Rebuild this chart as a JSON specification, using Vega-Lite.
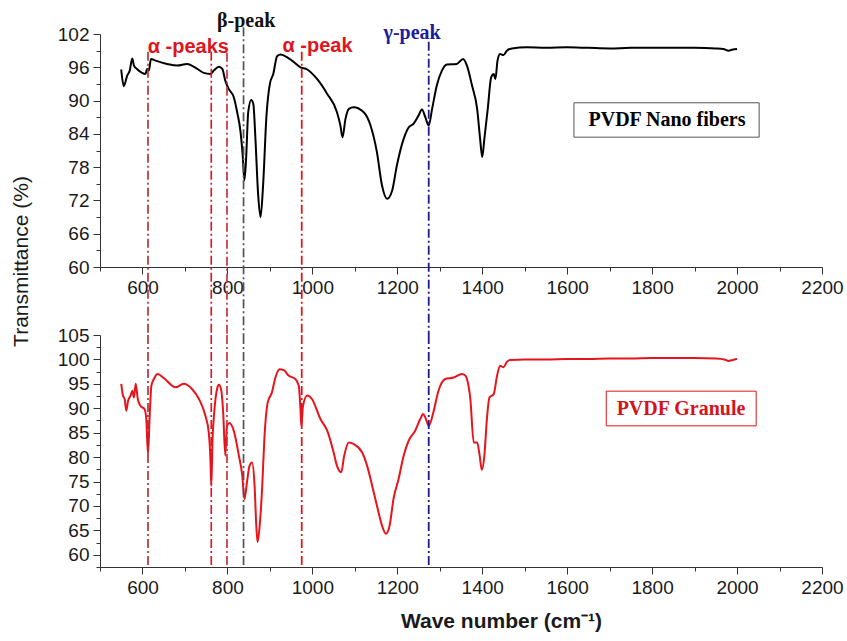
{
  "$schema": "https://vega.github.io/schema/vega-lite/v6.json",
  "padding": {"left": 10, "top": 10, "right": 2, "bottom": 5},
  "background": "white",
  "spacing": 68,
  "bounds": "flush",
  "config": {
    "view": {"stroke": null},
    "axis": {
      "grid": false,
      "labelFont": "Liberation Sans",
      "labelFontSize": 19,
      "labelColor": "#1a1a1a",
      "titleFont": "Liberation Sans",
      "titleFontSize": 21,
      "titleFontWeight": "normal",
      "titleColor": "#1a1a1a",
      "domainColor": "#333333",
      "tickColor": "#333333",
      "tickSize": 7,
      "tickCount": 100,
      "labelPadding": 4,
      "labelFlush": false,
      "labelOverlap": false,
      "labelBound": false
    }
  },
  "datasets": {
    "nano": [
      {"wn": 550, "t": 95.6}, {"wn": 556, "t": 92.6}, {"wn": 564, "t": 94.5}, {"wn": 570, "t": 95.4},
      {"wn": 576, "t": 97.6}, {"wn": 580, "t": 96.3}, {"wn": 587, "t": 95.7}, {"wn": 599, "t": 95.0},
      {"wn": 607, "t": 94.8}, {"wn": 611, "t": 95.7}, {"wn": 615, "t": 95.4}, {"wn": 620, "t": 97.5},
      {"wn": 631, "t": 97.2}, {"wn": 658, "t": 96.6}, {"wn": 682, "t": 96.3}, {"wn": 705, "t": 96.6},
      {"wn": 729, "t": 95.7}, {"wn": 744, "t": 95.0}, {"wn": 760, "t": 94.8}, {"wn": 768, "t": 95.4},
      {"wn": 780, "t": 96.1}, {"wn": 788, "t": 95.7}, {"wn": 795, "t": 93.6}, {"wn": 803, "t": 92.1},
      {"wn": 815, "t": 90.6}, {"wn": 823, "t": 87.9}, {"wn": 831, "t": 84.3}, {"wn": 836, "t": 80.1},
      {"wn": 840, "t": 75.6}, {"wn": 844, "t": 79.5}, {"wn": 849, "t": 87.9}, {"wn": 856, "t": 90.1},
      {"wn": 861, "t": 89.4}, {"wn": 866, "t": 83.1}, {"wn": 872, "t": 73.5}, {"wn": 878, "t": 69.0},
      {"wn": 884, "t": 74.7}, {"wn": 892, "t": 87.3}, {"wn": 900, "t": 93.0}, {"wn": 908, "t": 94.8},
      {"wn": 917, "t": 98.0}, {"wn": 925, "t": 98.3}, {"wn": 941, "t": 97.8}, {"wn": 952, "t": 97.2},
      {"wn": 972, "t": 96.0}, {"wn": 988, "t": 95.6}, {"wn": 1011, "t": 93.9}, {"wn": 1035, "t": 91.2},
      {"wn": 1058, "t": 87.9}, {"wn": 1066, "t": 85.5}, {"wn": 1071, "t": 83.4}, {"wn": 1078, "t": 86.7},
      {"wn": 1086, "t": 88.5}, {"wn": 1097, "t": 88.8}, {"wn": 1121, "t": 87.9}, {"wn": 1137, "t": 85.5},
      {"wn": 1152, "t": 80.7}, {"wn": 1164, "t": 74.7}, {"wn": 1176, "t": 72.3}, {"wn": 1188, "t": 73.8},
      {"wn": 1199, "t": 78.3}, {"wn": 1215, "t": 83.1}, {"wn": 1227, "t": 85.2}, {"wn": 1238, "t": 85.8},
      {"wn": 1250, "t": 87.3}, {"wn": 1258, "t": 88.4}, {"wn": 1266, "t": 87.0}, {"wn": 1274, "t": 85.5},
      {"wn": 1282, "t": 88.5}, {"wn": 1293, "t": 92.7}, {"wn": 1305, "t": 95.4}, {"wn": 1317, "t": 96.5},
      {"wn": 1340, "t": 96.6}, {"wn": 1355, "t": 97.5}, {"wn": 1364, "t": 96.3}, {"wn": 1376, "t": 92.7},
      {"wn": 1388, "t": 88.5}, {"wn": 1395, "t": 83.1}, {"wn": 1400, "t": 79.8}, {"wn": 1405, "t": 83.1},
      {"wn": 1413, "t": 88.5}, {"wn": 1421, "t": 94.2}, {"wn": 1427, "t": 94.8}, {"wn": 1431, "t": 93.9},
      {"wn": 1436, "t": 97.2}, {"wn": 1442, "t": 98.4}, {"wn": 1450, "t": 98.2}, {"wn": 1458, "t": 99.0},
      {"wn": 1470, "t": 99.4}, {"wn": 1505, "t": 99.6}, {"wn": 1550, "t": 99.5}, {"wn": 1600, "t": 99.6},
      {"wn": 1650, "t": 99.5}, {"wn": 1700, "t": 99.4}, {"wn": 1750, "t": 99.5}, {"wn": 1800, "t": 99.5},
      {"wn": 1850, "t": 99.5}, {"wn": 1900, "t": 99.5}, {"wn": 1950, "t": 99.4}, {"wn": 1968, "t": 99.3},
      {"wn": 1980, "t": 99.0}, {"wn": 1990, "t": 99.2}, {"wn": 2000, "t": 99.3}
    ],
    "granule": [
      {"wn": 550, "t": 95.0}, {"wn": 554, "t": 92.6}, {"wn": 558, "t": 91.9}, {"wn": 562, "t": 89.5},
      {"wn": 566, "t": 91.5}, {"wn": 572, "t": 92.6}, {"wn": 576, "t": 93.6}, {"wn": 580, "t": 92.2},
      {"wn": 584, "t": 95.0}, {"wn": 589, "t": 91.9}, {"wn": 595, "t": 90.5}, {"wn": 605, "t": 89.8},
      {"wn": 609, "t": 87.8}, {"wn": 613, "t": 80.6}, {"wn": 617, "t": 88.5}, {"wn": 621, "t": 94.6},
      {"wn": 627, "t": 96.0}, {"wn": 636, "t": 97.0}, {"wn": 650, "t": 96.2}, {"wn": 678, "t": 94.3},
      {"wn": 697, "t": 95.0}, {"wn": 717, "t": 93.9}, {"wn": 733, "t": 91.9}, {"wn": 748, "t": 88.5},
      {"wn": 756, "t": 85.1}, {"wn": 760, "t": 79.6}, {"wn": 762, "t": 74.1}, {"wn": 765, "t": 83.7},
      {"wn": 769, "t": 89.2}, {"wn": 776, "t": 94.1}, {"wn": 780, "t": 94.8}, {"wn": 785, "t": 93.9},
      {"wn": 790, "t": 89.2}, {"wn": 795, "t": 80.3}, {"wn": 799, "t": 86.4}, {"wn": 805, "t": 87.0},
      {"wn": 815, "t": 85.4}, {"wn": 827, "t": 80.3}, {"wn": 835, "t": 76.2}, {"wn": 840, "t": 71.4},
      {"wn": 846, "t": 74.8}, {"wn": 852, "t": 78.2}, {"wn": 858, "t": 78.9}, {"wn": 864, "t": 74.1},
      {"wn": 868, "t": 66.0}, {"wn": 871, "t": 62.6}, {"wn": 876, "t": 66.0}, {"wn": 882, "t": 74.1},
      {"wn": 887, "t": 83.7}, {"wn": 895, "t": 91.2}, {"wn": 905, "t": 93.3}, {"wn": 913, "t": 96.3},
      {"wn": 923, "t": 98.0}, {"wn": 933, "t": 97.8}, {"wn": 944, "t": 96.7}, {"wn": 960, "t": 96.0},
      {"wn": 968, "t": 94.6}, {"wn": 972, "t": 89.8}, {"wn": 974, "t": 86.4}, {"wn": 978, "t": 90.5},
      {"wn": 988, "t": 92.6}, {"wn": 999, "t": 91.9}, {"wn": 1019, "t": 87.8}, {"wn": 1035, "t": 85.4},
      {"wn": 1050, "t": 81.0}, {"wn": 1058, "t": 78.2}, {"wn": 1068, "t": 76.9}, {"wn": 1075, "t": 80.3},
      {"wn": 1086, "t": 83.0}, {"wn": 1097, "t": 82.7}, {"wn": 1117, "t": 81.0}, {"wn": 1129, "t": 78.2},
      {"wn": 1141, "t": 74.1}, {"wn": 1152, "t": 70.1}, {"wn": 1164, "t": 66.0}, {"wn": 1173, "t": 64.3},
      {"wn": 1182, "t": 66.0}, {"wn": 1191, "t": 71.4}, {"wn": 1203, "t": 75.5}, {"wn": 1215, "t": 80.3},
      {"wn": 1227, "t": 83.4}, {"wn": 1242, "t": 85.4}, {"wn": 1254, "t": 87.8}, {"wn": 1261, "t": 88.8},
      {"wn": 1266, "t": 88.1}, {"wn": 1274, "t": 86.4}, {"wn": 1285, "t": 89.2}, {"wn": 1297, "t": 93.6},
      {"wn": 1313, "t": 96.0}, {"wn": 1333, "t": 96.3}, {"wn": 1352, "t": 97.0}, {"wn": 1360, "t": 96.7},
      {"wn": 1364, "t": 96.0}, {"wn": 1372, "t": 91.9}, {"wn": 1380, "t": 83.0}, {"wn": 1388, "t": 83.0},
      {"wn": 1394, "t": 80.3}, {"wn": 1399, "t": 77.4}, {"wn": 1405, "t": 80.3}, {"wn": 1411, "t": 87.8},
      {"wn": 1417, "t": 92.2}, {"wn": 1427, "t": 92.9}, {"wn": 1435, "t": 96.7}, {"wn": 1442, "t": 98.7},
      {"wn": 1450, "t": 98.4}, {"wn": 1458, "t": 99.5}, {"wn": 1466, "t": 99.9}, {"wn": 1500, "t": 100.0},
      {"wn": 1550, "t": 100.0}, {"wn": 1600, "t": 100.1}, {"wn": 1650, "t": 100.1}, {"wn": 1700, "t": 100.2},
      {"wn": 1750, "t": 100.2}, {"wn": 1800, "t": 100.3}, {"wn": 1850, "t": 100.3}, {"wn": 1900, "t": 100.3},
      {"wn": 1950, "t": 100.2}, {"wn": 1970, "t": 100.0}, {"wn": 1980, "t": 99.7}, {"wn": 1990, "t": 99.9},
      {"wn": 2000, "t": 100.1}
    ],
    "linesTop": [
      {"peak": "a613", "wn": 613, "t": 98.8, "t2": 47.74},
      {"peak": "a762", "wn": 762, "t": 98.8, "t2": 47.74},
      {"peak": "a799", "wn": 799, "t": 98.6, "t2": 47.74},
      {"peak": "b838", "wn": 838, "t": 103.2, "t2": 47.74},
      {"peak": "a975", "wn": 975, "t": 98.8, "t2": 47.74},
      {"peak": "g1274", "wn": 1274, "t": 100.6, "t2": 47.74}
    ],
    "linesBottom": [
      {"peak": "a613", "wn": 613, "t": 105, "t2": 57.5},
      {"peak": "a762", "wn": 762, "t": 105, "t2": 57.5},
      {"peak": "a799", "wn": 799, "t": 105, "t2": 57.5},
      {"peak": "b838", "wn": 838, "t": 105, "t2": 57.5},
      {"peak": "a975", "wn": 975, "t": 105, "t2": 57.5},
      {"peak": "g1274", "wn": 1274, "t": 105, "t2": 57.5}
    ],
    "sansLabels": [
      {"label": "α -peaks", "wn": 708, "t": 99.7},
      {"label": "α -peak", "wn": 1012, "t": 99.8}
    ],
    "serifLabels": [
      {"label": "β-peak", "wn": 844, "t": 104.4, "peak": "beta"},
      {"label": "γ-peak", "wn": 1235, "t": 102.1, "peak": "gamma"}
    ],
    "boxTop": [{"wn": 1616, "wn2": 2052, "t": 89.6, "t2": 83.4, "label": "PVDF Nano fibers", "cx": 1835, "cy": 86.5}],
    "boxBottom": [{"wn": 1692, "wn2": 2045, "t": 93.5, "t2": 86.4, "label": "PVDF Granule", "cx": 1868, "cy": 89.95}]
  },
  "vconcat": [
    {
      "width": 722,
      "height": 233,
      "layer": [
        {
          "data": {"name": "nano"},
          "mark": {"type": "line", "color": "#000000", "strokeWidth": 2, "interpolate": "monotone"},
          "encoding": {
            "x": {
              "field": "wn", "type": "quantitative",
              "scale": {"domain": [500, 2200], "nice": false, "zero": false},
              "axis": {
                "title": null,
                "values": [500, 600, 700, 800, 900, 1000, 1100, 1200, 1300, 1400, 1500, 1600, 1700, 1800, 1900, 2000, 2100, 2200],
                "labelExpr": "datum.value % 200 == 0 ? datum.label : ''",
                "tickSize": {"condition": {"test": "datum.value % 200 == 0", "value": 7}, "value": 4},
                "format": "d"
              }
            },
            "y": {
              "field": "t", "type": "quantitative",
              "scale": {"domain": [60, 102], "nice": false, "zero": false},
              "axis": {
                "title": "Transmittance (%)",
                "titleY": 227,
                "titlePadding": 26,
                "values": [60, 63, 66, 69, 72, 75, 78, 81, 84, 87, 90, 93, 96, 99, 102],
                "format": "d",
                "labelExpr": "datum.value % 6 == 0 ? datum.label : ''",
                "tickSize": {"condition": {"test": "datum.value % 6 == 0", "value": 7}, "value": 4}
              }
            }
          }
        },
        {
          "data": {"name": "linesTop"},
          "mark": {"type": "rule", "strokeDash": [9, 3, 2, 3]},
          "encoding": {
            "x": {"field": "wn", "type": "quantitative"},
            "y": {"field": "t", "type": "quantitative"},
            "y2": {"field": "t2"},
            "color": {"field": "peak", "type": "nominal", "legend": null,
              "scale": {"domain": ["a613", "a762", "a799", "b838", "a975", "g1274", "beta", "gamma"], "range": ["#b3262c", "#e0141c", "#c8323a", "#555555", "#e0141c", "#1c1c8c", "#111111", "#1c1c9c"]}},
            "strokeWidth": {"field": "peak", "type": "nominal", "legend": null,
              "scale": {"domain": ["a613", "a762", "a799", "b838", "a975", "g1274"], "range": [1.6, 1.8, 1.1, 1.5, 1.8, 1.6]}}
          }
        },
        {
          "data": {"name": "sansLabels"},
          "mark": {"type": "text", "font": "Liberation Sans", "fontWeight": "bold", "fontSize": 20, "color": "#e0141c"},
          "encoding": {
            "x": {"field": "wn", "type": "quantitative"},
            "y": {"field": "t", "type": "quantitative"},
            "text": {"field": "label"}
          }
        },
        {
          "data": {"name": "serifLabels"},
          "mark": {"type": "text", "font": "Liberation Serif", "fontWeight": "bold", "fontSize": 20},
          "encoding": {
            "x": {"field": "wn", "type": "quantitative"},
            "y": {"field": "t", "type": "quantitative"},
            "text": {"field": "label"},
            "color": {"field": "peak", "type": "nominal", "legend": null,
              "scale": {"domain": ["a613", "a762", "a799", "b838", "a975", "g1274", "beta", "gamma"], "range": ["#b3262c", "#e0141c", "#c8323a", "#555555", "#e0141c", "#1c1c8c", "#111111", "#1c1c9c"]}}
          }
        },
        {
          "data": {"name": "boxTop"},
          "mark": {"type": "rect", "filled": false, "stroke": "#555555", "strokeWidth": 1},
          "encoding": {
            "x": {"field": "wn", "type": "quantitative"},
            "x2": {"field": "wn2"},
            "y": {"field": "t", "type": "quantitative"},
            "y2": {"field": "t2"}
          }
        },
        {
          "data": {"name": "boxTop"},
          "mark": {"type": "text", "font": "Liberation Serif", "fontWeight": "bold", "fontSize": 20, "color": "#000000"},
          "encoding": {
            "x": {"field": "cx", "type": "quantitative"},
            "y": {"field": "cy", "type": "quantitative"},
            "text": {"field": "label"}
          }
        }
      ]
    },
    {
      "width": 722,
      "height": 232,
      "layer": [
        {
          "data": {"name": "granule"},
          "mark": {"type": "line", "color": "#e8141c", "strokeWidth": 2, "interpolate": "monotone"},
          "encoding": {
            "x": {
              "field": "wn", "type": "quantitative",
              "scale": {"domain": [500, 2200], "nice": false, "zero": false},
              "axis": {
                "title": "Wave number (cm⁻¹)",
                "titleFontWeight": "bold",
                "titleX": 401,
                "titlePadding": 13,
                "values": [500, 600, 700, 800, 900, 1000, 1100, 1200, 1300, 1400, 1500, 1600, 1700, 1800, 1900, 2000, 2100, 2200],
                "labelExpr": "datum.value % 200 == 0 ? datum.label : ''",
                "tickSize": {"condition": {"test": "datum.value % 200 == 0", "value": 7}, "value": 4},
                "format": "d"
              }
            },
            "y": {
              "field": "t", "type": "quantitative",
              "scale": {"domain": [57.5, 105], "nice": false, "zero": false},
              "axis": {
                "title": null,
                "values": [57.5, 60, 62.5, 65, 67.5, 70, 72.5, 75, 77.5, 80, 82.5, 85, 87.5, 90, 92.5, 95, 97.5, 100, 102.5, 105],
                "labelExpr": "datum.value % 5 == 0 ? format(datum.value, 'd') : ''",
                "tickSize": {"condition": {"test": "datum.value % 5 == 0", "value": 7}, "value": 4}
              }
            }
          }
        },
        {
          "data": {"name": "linesBottom"},
          "mark": {"type": "rule", "strokeDash": [9, 3, 2, 3]},
          "encoding": {
            "x": {"field": "wn", "type": "quantitative"},
            "y": {"field": "t", "type": "quantitative"},
            "y2": {"field": "t2"},
            "color": {"field": "peak", "type": "nominal", "legend": null,
              "scale": {"domain": ["a613", "a762", "a799", "b838", "a975", "g1274"], "range": ["#b3262c", "#e0141c", "#c8323a", "#555555", "#e0141c", "#1c1c8c"]}},
            "strokeWidth": {"field": "peak", "type": "nominal", "legend": null,
              "scale": {"domain": ["a613", "a762", "a799", "b838", "a975", "g1274"], "range": [1.6, 1.8, 1.1, 1.5, 1.8, 1.6]}}
          }
        },
        {
          "data": {"name": "boxBottom"},
          "mark": {"type": "rect", "filled": false, "stroke": "#e0141c", "strokeWidth": 1},
          "encoding": {
            "x": {"field": "wn", "type": "quantitative"},
            "x2": {"field": "wn2"},
            "y": {"field": "t", "type": "quantitative"},
            "y2": {"field": "t2"}
          }
        },
        {
          "data": {"name": "boxBottom"},
          "mark": {"type": "text", "font": "Liberation Serif", "fontWeight": "bold", "fontSize": 20, "color": "#d4141c"},
          "encoding": {
            "x": {"field": "cx", "type": "quantitative"},
            "y": {"field": "cy", "type": "quantitative"},
            "text": {"field": "label"}
          }
        }
      ]
    }
  ]
}
